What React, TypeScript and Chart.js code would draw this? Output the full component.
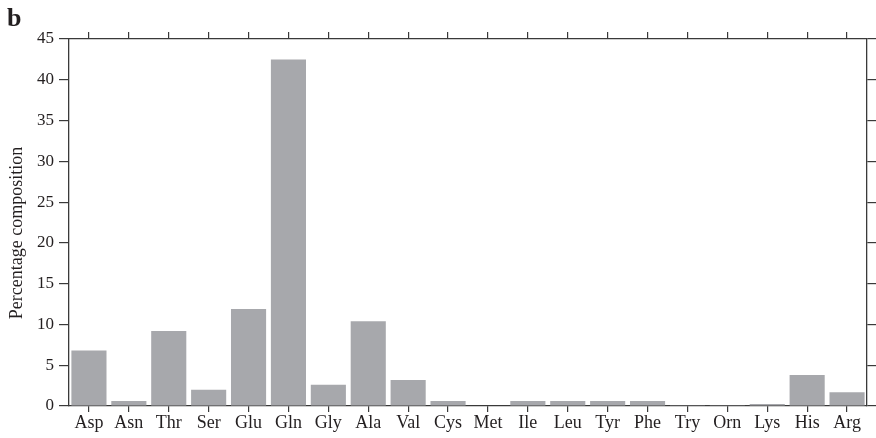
import React, { useEffect, useRef } from "react";
import { Chart, registerables } from "chart.js";

Chart.register(...registerables);

const categories = ["Asp", "Asn", "Thr", "Ser", "Glu", "Gln", "Gly", "Ala", "Val", "Cys", "Met", "Ile", "Leu", "Tyr", "Phe", "Try", "Orn", "Lys", "His", "Arg"];
const composition = [6.8, 0.6, 9.2, 2.0, 11.9, 42.5, 2.6, 10.4, 3.2, 0.6, 0.05, 0.6, 0.6, 0.6, 0.6, 0.03, 0.03, 0.25, 3.8, 1.7];
const yMin = 0;
const yMax = 45;
const yStep = 5;
const yTitle = "Percentage composition";
const panelLabel = "b";

const FONT = "'Liberation Serif', 'Times New Roman', serif";
const AXIS = "#3a3a3a";
const TEXT = "#231f20";

export default function App() {
  const ref = useRef<HTMLCanvasElement>(null);
  useEffect(() => {
    document.body.style.margin = "0";
    const ctx = ref.current!.getContext("2d")!;
    const chart = new Chart(ctx, {
      type: "bar",
      data: {
        labels: categories,
        datasets: [
          {
            data: composition,
            backgroundColor: "#a7a8ac",
            borderWidth: 0,
            categoryPercentage: 1,
            barPercentage: 0.88,
            xAxisID: "x",
            yAxisID: "y",
          },
        ],
      },
      options: {
        animation: false,
        responsive: false,
        maintainAspectRatio: false,
        layout: { padding: 0 },
        plugins: { legend: { display: false }, tooltip: { enabled: false } },
        scales: {
          x: {
            type: "category",
            position: "bottom",
            offset: true,
            grid: { display: true, drawOnChartArea: false, offset: false, tickLength: 6, color: AXIS, lineWidth: 1.2 },
            border: { display: true, color: AXIS, width: 1.3 },
            ticks: { color: TEXT, font: { family: FONT, size: 18 }, padding: 0, autoSkip: false, maxRotation: 0 },
            afterFit: (s: any) => { s.height = 32; },
          },
          x2: {
            type: "category",
            position: "top",
            offset: true,
            labels: categories,
            grid: { display: true, drawOnChartArea: false, offset: false, tickLength: 7, color: AXIS, lineWidth: 1.2 },
            border: { display: true, color: AXIS, width: 1.3 },
            ticks: { display: false },
            afterFit: (s: any) => { s.height = 39; },
          },
          y: {
            type: "linear",
            position: "left",
            min: yMin,
            max: yMax,
            grid: { display: true, drawOnChartArea: false, tickLength: 10, color: AXIS, lineWidth: 1.2 },
            border: { display: true, color: AXIS, width: 1.3 },
            ticks: { stepSize: yStep, color: TEXT, font: { family: FONT, size: 17 }, padding: 5 },
            title: { display: false },
            afterFit: (s: any) => { s.width = 69; },
          },
          y2: {
            type: "linear",
            position: "right",
            min: yMin,
            max: yMax,
            grid: { display: true, drawOnChartArea: false, tickLength: 9, color: AXIS, lineWidth: 1.2 },
            border: { display: true, color: AXIS, width: 1.3 },
            ticks: { stepSize: yStep, display: false },
            afterFit: (s: any) => { s.width = 9; },
          },
        },
      },
    });
    return () => chart.destroy();
  }, []);
  return (
    <div style={{ position: "relative", width: 876, height: 438 }}>
      <canvas ref={ref} width={876} height={438} style={{ display: "block" }} />
      <div
        style={{
          position: "absolute",
          left: 7,
          top: 5,
          fontFamily: FONT,
          fontWeight: "bold",
          fontSize: 26,
          lineHeight: 1,
          color: TEXT,
        }}
      >
        {panelLabel}
      </div>
      <div
        style={{
          position: "absolute",
          left: 16,
          top: 233,
          transform: "translate(-50%, -50%) rotate(-90deg)",
          fontFamily: FONT,
          fontSize: 18,
          lineHeight: 1,
          whiteSpace: "nowrap",
          color: TEXT,
        }}
      >
        {yTitle}
      </div>
    </div>
  );
}
